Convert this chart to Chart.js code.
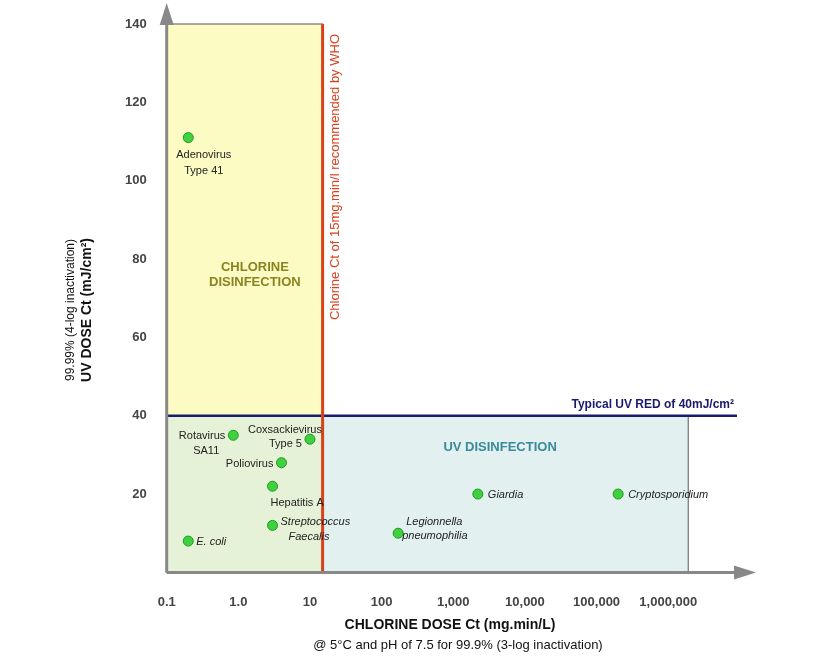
<!DOCTYPE html>
<html><head><meta charset="utf-8">
<script src="https://cdn.jsdelivr.net/npm/chart.js@4"></script>
<style>html,body{margin:0;background:#fff}#wrap{width:840px;height:666px}</style>
</head><body><div id="wrap"><canvas id="c"></canvas></div>
<script>
// organisms: [chlorine Ct, UV dose]
const names = ['Adenovirus|Type 41', 'Rotavirus|SA11', 'Coxsackievirus|Type 5', 'Poliovirus', 'Hepatitis A',
  'Streptococcus|Faecalis', 'E. coli', 'Legionnella|pneumophilia', 'Giardia', 'Cryptosporidium'];
const chlorineCt = [0.2, 0.85, 10, 4, 3, 3, 0.2, 170, 2200, 200000];
const uvDose = [111, 35, 34, 28, 22, 12, 8, 10, 20, 20];
const italic = [false, false, false, false, false, true, true, true, true, true];
const xTicks = [0.1, 1, 10, 100, 1000, 10000, 100000, 1000000];
const xTickLabels = ['0.1', '1.0', '10', '100', '1,000', '10,000', '100,000', '1,000,000'];
const whoLimit = 15, uvRed = 40, uvRegionEnd = 1.9e6;

const FONT = '"Liberation Sans", Arial, sans-serif';

// where each label sits relative to its point: [dx, dy, align] per line
const labelPos = [
  [[-12, 20, 'left'], [-4, 36, 'left']],
  [[-8, 4, 'right'], [-14, 19, 'right']],
  [[12, -6, 'right'], [-8, 8, 'right']],
  [[-8, 4, 'right']],
  [[-2, 20, 'left']],
  [[8, 0, 'left'], [16, 15, 'left']],
  [[8, 4, 'left']],
  [[8, -8, 'left'], [4, 6, 'left']],
  [[10, 4, 'left']],
  [[10, 4, 'left']]
];

const decor = {
  id: 'decor',
  beforeDatasetsDraw(chart) {
    const { ctx, scales: { x, y }, chartArea: a } = chart;
    const X = v => x.getPixelForValue(v), Y = v => y.getPixelForValue(v);
    ctx.save();
    ctx.fillStyle = '#fdfbc4'; ctx.fillRect(X(0.1), Y(140), X(whoLimit) - X(0.1), Y(uvRed) - Y(140));
    ctx.fillStyle = '#e6f2d8'; ctx.fillRect(X(0.1), Y(uvRed), X(whoLimit) - X(0.1), Y(0) - Y(uvRed));
    ctx.fillStyle = '#e2f0ef'; ctx.fillRect(X(whoLimit), Y(uvRed), X(uvRegionEnd) - X(whoLimit), Y(0) - Y(uvRed));
    ctx.strokeStyle = '#555'; ctx.lineWidth = 1;
    ctx.strokeRect(X(0.1), Y(140), X(whoLimit) - X(0.1), Y(0) - Y(140));
    ctx.strokeRect(X(whoLimit), Y(uvRed), X(uvRegionEnd) - X(whoLimit), Y(0) - Y(uvRed));
    ctx.strokeStyle = '#1a1a6e'; ctx.lineWidth = 2.5;
    ctx.beginPath(); ctx.moveTo(X(0.1), Y(uvRed)); ctx.lineTo(a.right - 5, Y(uvRed)); ctx.stroke();
    ctx.strokeStyle = '#d9401c'; ctx.lineWidth = 3;
    ctx.beginPath(); ctx.moveTo(X(whoLimit), Y(140)); ctx.lineTo(X(whoLimit), Y(0)); ctx.stroke();
    ctx.textAlign = 'center'; ctx.font = 'bold 13px ' + FONT;
    ctx.fillStyle = '#8a8420';
    [['CHLORINE', 271], ['DISINFECTION', 286]].forEach(([t, py]) => ctx.fillText(t, X(1.7), py));
    ctx.fillStyle = '#3a8a9a'; ctx.fillText('UV DISINFECTION', X(4500), Y(31));
    ctx.fillStyle = '#1a1a6e'; ctx.textAlign = 'right'; ctx.font = 'bold 12px ' + FONT;
    ctx.fillText('Typical UV RED of 40mJ/cm²', a.right - 8, Y(uvRed) - 8);
    ctx.save(); ctx.translate(X(whoLimit) + 16, Y(140) + 10); ctx.rotate(-Math.PI / 2);
    ctx.textAlign = 'right'; ctx.fillStyle = '#d9401c'; ctx.font = '13px ' + FONT;
    ctx.fillText('Chlorine Ct of 15mg.min/l recommended by WHO', 0, 0); ctx.restore();
    ctx.restore();
  },
  afterDraw(chart) {
    const { ctx, scales: { x, y }, chartArea: a } = chart;
    const X = v => x.getPixelForValue(v), Y = v => y.getPixelForValue(v);
    ctx.save();
    ctx.strokeStyle = '#888'; ctx.fillStyle = '#888'; ctx.lineWidth = 3;
    ctx.beginPath(); ctx.moveTo(a.left, Y(0)); ctx.lineTo(a.left, 15); ctx.stroke();
    ctx.beginPath(); ctx.moveTo(a.left, Y(0)); ctx.lineTo(a.right, Y(0)); ctx.stroke();
    ctx.beginPath(); ctx.moveTo(a.left - 7, 25); ctx.lineTo(a.left, 3); ctx.lineTo(a.left + 7, 25); ctx.fill();
    ctx.beginPath(); ctx.moveTo(a.right - 8, Y(0) - 7); ctx.lineTo(a.right + 14, Y(0)); ctx.lineTo(a.right - 8, Y(0) + 7); ctx.fill();
    ctx.fillStyle = '#222';
    names.forEach((n, i) => {
      const px = X(chlorineCt[i]), py = Y(uvDose[i]);
      ctx.font = (italic[i] ? 'italic ' : '') + '11px ' + FONT;
      n.split('|').forEach((t, k) => {
        const [dx, dy, al] = labelPos[i][k];
        ctx.textAlign = al; ctx.fillText(t, px + dx, py + dy);
      });
    });
    ctx.textAlign = 'center'; ctx.fillStyle = '#111';
    ctx.font = 'bold 14px ' + FONT; ctx.fillText('CHLORINE DOSE Ct (mg.min/L)', 450, 629);
    ctx.font = '13px ' + FONT; ctx.fillText('@ 5°C and pH of 7.5 for 99.9% (3-log inactivation)', 458, 649);
    ctx.save(); ctx.translate(74, 310); ctx.rotate(-Math.PI / 2);
    ctx.font = '12px ' + FONT; ctx.fillText('99.99% (4-log inactivation)', 0, 0);
    ctx.font = 'bold 14px ' + FONT; ctx.fillText('UV DOSE Ct (mJ/cm²)', 0, 17);
    ctx.restore(); ctx.restore();
  }
};

new Chart(document.getElementById('c'), {
  type: 'scatter',
  data: { datasets: [{
    data: chlorineCt.map((v, i) => ({ x: v, y: uvDose[i] })),
    backgroundColor: '#3fd13f', borderColor: '#1f9a1f', borderWidth: 1, pointRadius: 5, pointHoverRadius: 5
  }] },
  options: {
    responsive: true, maintainAspectRatio: false, animation: false,
    layout: { padding: { left: 113, top: 24, right: 98, bottom: 42 } },
    plugins: { legend: { display: false }, tooltip: { enabled: false } },
    scales: {
      x: { type: 'logarithmic', min: 0.1, max: 1.07e7,
        afterBuildTicks: s => { s.ticks = xTicks.map(v => ({ value: v })); },
        ticks: { callback: (v, i) => xTickLabels[i], color: '#444', font: { family: FONT, size: 13, weight: 'bold' }, maxRotation: 0, padding: 14 },
        grid: { display: false }, border: { display: false } },
      y: { min: 0, max: 140,
        ticks: { stepSize: 20, callback: v => v === 0 ? '' : v, color: '#444', font: { family: FONT, size: 13, weight: 'bold' }, padding: 12 },
        grid: { display: false }, border: { display: false } }
    }
  },
  plugins: [decor]
});
</script></body></html>
